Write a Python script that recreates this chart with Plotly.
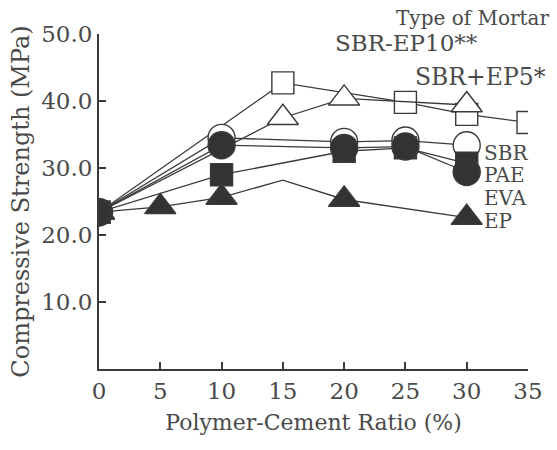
import plotly.graph_objects as go

# Data (polymer-cement ratio %, compressive strength MPa)
sbr_ep10_x = [0, 15, 25, 30, 35]
sbr_ep10_y = [23.4, 42.7, 39.8, 38.0, 36.8]

sbr_ep5_x = [0, 15, 20, 30]
sbr_ep5_y = [23.4, 37.5, 40.4, 39.4]

sbr_x = [0, 10, 20, 25, 30]
sbr_y = [23.4, 34.5, 33.9, 34.1, 33.4]

eva_x = [0, 10, 20, 25, 30]
eva_y = [23.4, 29.0, 32.5, 33.0, 30.7]

pae_x = [0, 10, 20, 25, 30]
pae_y = [23.4, 33.4, 33.0, 33.2, 29.4]

ep_x = [0, 5, 10, 15, 20, 30]
ep_y = [23.4, 24.2, 25.6, 28.2, 25.3, 22.6]
ep_marker_shown = [1, 1, 1, 0, 1, 1]

x_ticks = [0, 5, 10, 15, 20, 25, 30, 35]
y_ticks = [10, 20, 30, 40, 50]
y_ticktext = ["10.0", "20.0", "30.0", "40.0", "50.0"]

series_labels = ["SBR", "PAE", "EVA", "EP"]
label_y = [32.3, 28.9, 25.5, 22.1]

LINE = "#3a3a3a"
FILL = "#333333"
TXT = "#4a4a4a"
FONT = "DejaVu Serif"

fig = go.Figure()

def add(x, y, symbol, filled, size, name):
    fig.add_trace(go.Scatter(
        x=x, y=y, mode="lines+markers", name=name,
        line=dict(color=LINE, width=1.3),
        marker=dict(symbol=symbol, size=size, opacity=1,
                    color=FILL if filled else "white",
                    line=dict(color=LINE, width=1.4)),
        showlegend=False,
    ))

add(sbr_ep10_x, sbr_ep10_y, "square", False, 22, "SBR-EP10**")
add(sbr_ep5_x, sbr_ep5_y, "triangle-up", False, 27, "SBR+EP5*")
add(sbr_x, sbr_y, "circle", False, 27, "SBR")
add(eva_x, eva_y, "square", True, 22, "EVA")
add(pae_x, pae_y, "circle", True, 27, "PAE")
fig.add_trace(go.Scatter(
    x=ep_x, y=ep_y, mode="lines+markers", name="EP",
    line=dict(color=LINE, width=1.3),
    marker=dict(symbol="triangle-up", size=[27 * s for s in ep_marker_shown], opacity=1,
                color=FILL, line=dict(color=LINE, width=1.4)),
    showlegend=False,
))

# labels
for lab, ly in zip(series_labels, label_y):
    fig.add_annotation(x=30, y=ly, xref="x", yref="y", text=lab, showarrow=False,
                       xanchor="left", xshift=15, font=dict(family=FONT, size=20, color=TXT))

fig.add_annotation(x=1.0, y=1.0, xref="paper", yref="paper", text="Type of Mortar",
                   showarrow=False, xanchor="right", yanchor="middle", xshift=23, yshift=16,
                   font=dict(family=FONT, size=20, color=TXT))
fig.add_annotation(x=20, y=48.6, xref="x", yref="y", text="SBR-EP10**", showarrow=False,
                   xanchor="left", xshift=-11, font=dict(family=FONT, size=23, color=TXT))
fig.add_annotation(x=25, y=43.6, xref="x", yref="y", text="SBR+EP5*", showarrow=False,
                   xanchor="left", xshift=8, font=dict(family=FONT, size=23.5, color=TXT))

fig.update_layout(
    width=557, height=450, autosize=False,
    margin=dict(l=99, r=29, t=34, b=81),
    paper_bgcolor="white", plot_bgcolor="white",
    font=dict(family=FONT, color=TXT),
    xaxis=dict(range=[0, 35], tickvals=x_ticks, ticks="inside", ticklen=7, tickwidth=1.5,
               tickcolor=LINE, showline=True, linecolor=LINE, linewidth=2, showgrid=False,
               zeroline=False, tickfont=dict(family=FONT, size=23, color=TXT),
               title=dict(text="Polymer-Cement Ratio (%)", font=dict(family=FONT, size=22, color=TXT),
                          standoff=12)),
    yaxis=dict(range=[0, 50], tickvals=y_ticks, ticktext=y_ticktext, ticks="inside", ticklen=7,
               tickwidth=1.5, tickcolor=LINE, showline=True, linecolor=LINE, linewidth=2,
               showgrid=False, zeroline=False, tickfont=dict(family=FONT, size=23, color=TXT),
               title=dict(text="Compressive Strength (MPa)", font=dict(family=FONT, size=24, color=TXT),
                          standoff=5)),
)

fig.write_html("out.html")
